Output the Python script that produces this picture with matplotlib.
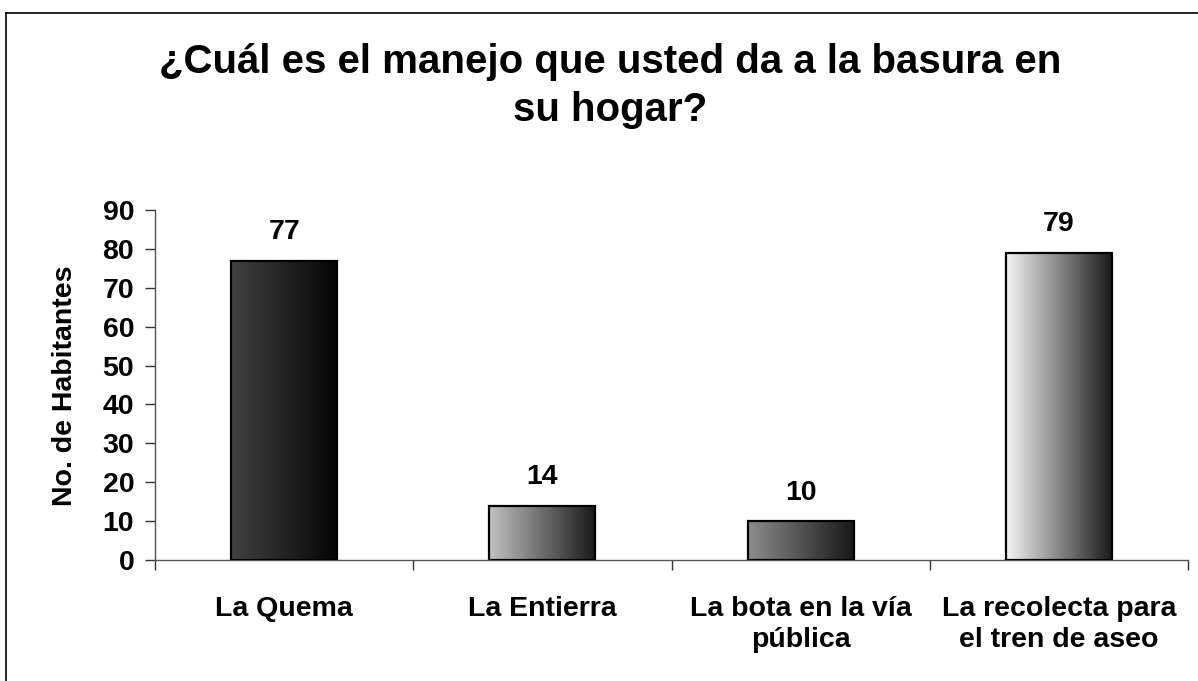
import numpy as np
import matplotlib
matplotlib.use("Agg")
import matplotlib.pyplot as plt
from matplotlib.colors import LinearSegmentedColormap
from matplotlib.lines import Line2D

plt.rcParams['font.family'] = ['Liberation Sans', 'DejaVu Sans']
plt.rcParams['font.weight'] = 'bold'

# data
categories = ["La Quema", "La Entierra", "La bota en la vía\npública",
              "La recolecta para\nel tren de aseo"]
values = [77, 14, 10, 79]
# left/right gradient shades for each bar
grad_left = ["#424242", "#c2c2c2", "#8c8c8c", "#f4f4f4"]
grad_right = ["#050505", "#1a1a1a", "#181818", "#1a1a1a"]
y_ticks = [0, 10, 20, 30, 40, 50, 60, 70, 80, 90]

W, H = 1198, 681
fs = 20.5
fig = plt.figure(figsize=(W / 100, H / 100), dpi=100)
ax = fig.add_axes([155 / W, (H - 560) / H, (1188 - 155) / W, 350 / H])

x = np.arange(len(categories))
bw = 0.41
bars = ax.bar(x, values, width=bw, facecolor="none", edgecolor="black",
              linewidth=1.6, zorder=3)

grad = np.linspace(0, 1, 256).reshape(1, -1)
for b, c0, c1 in zip(bars, grad_left, grad_right):
    cm = LinearSegmentedColormap.from_list("g", [c0, c1])
    x0, w, h = b.get_x(), b.get_width(), b.get_height()
    im = ax.imshow(grad, cmap=cm, extent=[x0, x0 + w, 0, h],
                   aspect="auto", zorder=2, interpolation="bilinear")
    im.set_clip_path(b)
    ax.annotate(str(int(h)), (x0 + w / 2, h), xytext=(0, 11),
                textcoords="offset points", ha="center", va="bottom",
                fontsize=fs, fontweight="bold")

ax.set_xlim(-0.5, len(categories) - 0.5)
ax.set_ylim(0, 90)
ax.set_yticks(y_ticks)
ax.tick_params(axis="y", direction="out", length=7, width=1, pad=8,
               labelsize=fs, color="#333333")
ax.set_xticks(x)
ax.set_xticklabels(categories, fontsize=fs, fontweight="bold",
                   linespacing=1.22)
ax.tick_params(axis="x", which="major", length=0, pad=26)
ax.set_xticks(np.arange(-0.5, len(categories)), minor=True)
ax.tick_params(axis="x", which="minor", direction="out", length=7, width=1,
               color="#333333")
for lab in ax.get_yticklabels():
    lab.set_fontweight("bold")

for s in ["top", "right"]:
    ax.spines[s].set_visible(False)
for s in ["left", "bottom"]:
    ax.spines[s].set_color("#555555")
    ax.spines[s].set_linewidth(1)

fig.text(65 / W, 1 - 386 / H, "No. de Habitantes", rotation=90,
         ha="center", va="center", fontsize=fs, fontweight="bold")

fig.text(610 / W, 1 - 43 / H, "¿Cuál es el manejo que usted da a la basura en\nsu hogar?",
         ha="center", va="top", fontsize=29, fontweight="bold",
         multialignment="center", linespacing=1.32)

# partial frame (top and left edges)
fig.add_artist(Line2D([6 / W, 1], [1 - 13 / H, 1 - 13 / H], color="black",
                      linewidth=1.2, transform=fig.transFigure))
fig.add_artist(Line2D([6 / W, 6 / W], [0, 1 - 13 / H], color="black",
                      linewidth=1.2, transform=fig.transFigure))

fig.savefig("out.png", dpi=100)
